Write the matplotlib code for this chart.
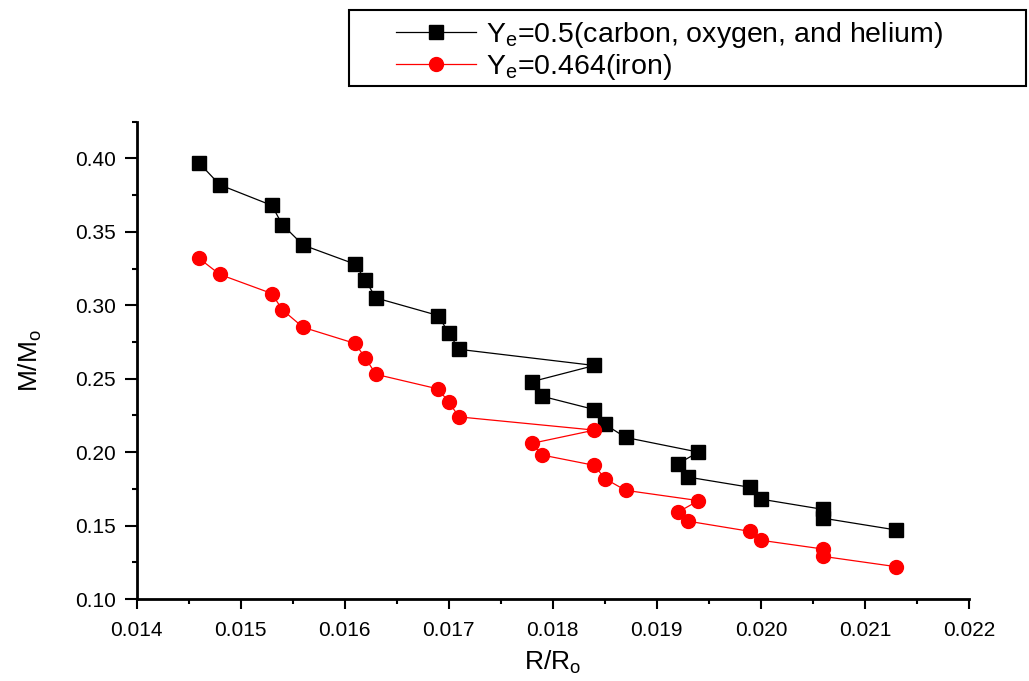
import matplotlib
matplotlib.use('Agg')
import matplotlib.pyplot as plt
from matplotlib.patches import Rectangle
from matplotlib.ticker import MultipleLocator, FormatStrFormatter

plt.rcParams['font.family'] = ['Liberation Sans', 'DejaVu Sans']
plt.rcParams['mathtext.fontset'] = 'custom'
plt.rcParams['mathtext.rm'] = 'Liberation Sans'

# radius (R/Ro) shared by both series
radius = [0.0146, 0.0148, 0.0153, 0.0154, 0.0156, 0.0161, 0.0162, 0.0163,
          0.0169, 0.0170, 0.0171, 0.0184, 0.0178, 0.0179, 0.0184, 0.0185,
          0.0187, 0.0194, 0.0192, 0.0193, 0.0199, 0.0200, 0.0206, 0.0206,
          0.0213]

# mass (M/Mo), Ye = 0.5
mass_c = [0.397, 0.382, 0.368, 0.355, 0.341, 0.328, 0.317, 0.305,
          0.293, 0.281, 0.270, 0.259, 0.248, 0.238, 0.229, 0.219,
          0.210, 0.200, 0.192, 0.183, 0.176, 0.168, 0.161, 0.155,
          0.147]

# mass (M/Mo), Ye = 0.464
mass_fe = [0.332, 0.321, 0.308, 0.297, 0.285, 0.274, 0.264, 0.253,
           0.243, 0.234, 0.224, 0.215, 0.206, 0.198, 0.191, 0.182,
           0.174, 0.167, 0.159, 0.153, 0.146, 0.140, 0.134, 0.129,
           0.122]

label_c = r'Y$_\mathregular{e}$=0.5(carbon, oxygen, and helium)'
label_fe = r'Y$_\mathregular{e}$=0.464(iron)'

W, H = 1029, 681
fig = plt.figure(figsize=(W / 100, H / 100), dpi=100)
ax = fig.add_axes([0.1327, 0.1204, 0.809, 0.7009])

l1, = ax.plot(radius, mass_c, color='black', lw=0.9, marker='s', ms=9.5,
              mec='black', mfc='black', label=label_c)
l2, = ax.plot(radius, mass_fe, color='red', lw=0.9, marker='o', ms=10,
              mec='red', mfc='red', label=label_fe)

ax.set_xlim(0.014, 0.022)
ax.set_ylim(0.10, 0.425)
ax.xaxis.set_major_locator(MultipleLocator(0.001))
ax.xaxis.set_minor_locator(MultipleLocator(0.0005))
ax.yaxis.set_major_locator(MultipleLocator(0.05))
ax.yaxis.set_minor_locator(MultipleLocator(0.025))
ax.xaxis.set_major_formatter(FormatStrFormatter('%.3f'))
ax.yaxis.set_major_formatter(FormatStrFormatter('%.2f'))

for side in ['top', 'right']:
    ax.spines[side].set_visible(False)
for side in ['left', 'bottom']:
    ax.spines[side].set_linewidth(2)

ax.tick_params(which='major', direction='out', width=1.5, labelsize=15)
ax.tick_params(axis='x', which='major', length=7, pad=9)
ax.tick_params(axis='y', which='major', length=9, pad=6)
ax.tick_params(which='minor', direction='out', length=3.5, width=1.5)

ax.set_xlabel(r'R/R$_\mathregular{o}$', fontsize=19, labelpad=6)
ax.set_ylabel(r'M/M$_\mathregular{o}$', fontsize=19, labelpad=22)

# legend frame
fig.patches.append(Rectangle((349 / W, 1 - 86 / H), (1026 - 349) / W, 76 / H,
                             transform=fig.transFigure, fill=False,
                             edgecolor='black', lw=1.5))
fig.legend(handles=[l1, l2], loc='upper left',
           bbox_to_anchor=(396 / W, 1 - 20 / H),
           fontsize=20.5, frameon=False, handlelength=2.8, handletextpad=0.35,
           borderpad=0, labelspacing=0.08, borderaxespad=0)

fig.savefig('out.png', dpi=100)
